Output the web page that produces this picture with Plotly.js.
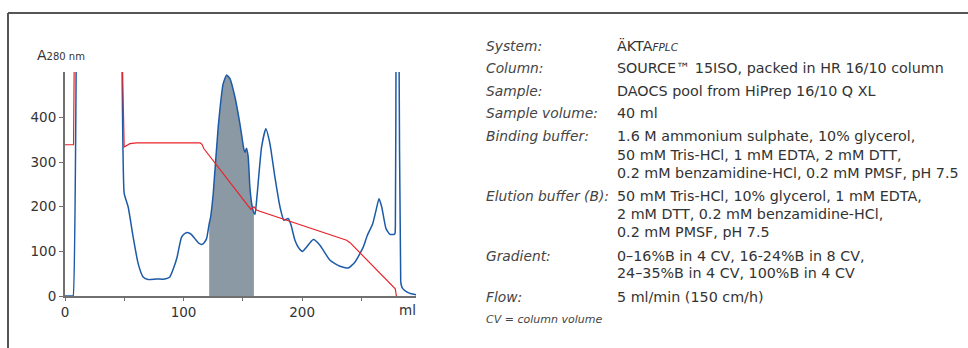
<!DOCTYPE html>
<html>
<head>
<meta charset="utf-8">
<script src="https://cdn.plot.ly/plotly-3.0.1.min.js"></script>
<style>html,body{margin:0;padding:0;background:#fff;}#chart{width:968px;height:348px;}</style>
</head>
<body>
<div id="chart"></div>
<script>
// Absorbance A280 (blue); values above 502 are off-scale (clipped at the top of the plot)
const volumeA280 = [0, 6.5, 6.9, 9.6, 9.7, 47.8, 47.9, 49.9, 51.5, 53.3, 57.5, 61.7, 65.9, 70.1, 77.2, 84.2, 88.4, 91.5, 94.5, 98.3, 101.5, 103.9, 106.5, 109.5, 113, 115.7, 117.5, 119.4, 121.6, 122.8, 125, 129.2, 133.4, 136.3, 139.1, 143.3, 147.5, 150.9, 151.8, 153.0, 154.5, 155.9, 157.9, 159.3, 160.2, 162.1, 165.8, 169.4, 172.8, 177, 181.3, 184.6, 186.5, 188.3, 190.5, 193.9, 197, 200.4, 203.8, 209.4, 215, 223.5, 231.9, 238.9, 244.6, 251.6, 255, 259.5, 262.3, 264.8, 267.1, 270.7, 274.1, 277.7, 278.3, 278.6, 279.2, 279.3, 281.5, 281.6, 283.1, 283.6, 284.8, 288.2, 292, 296];
const absA280 = [0, 0, 0, 600, 750, 750, 600, 230, 215, 199.5, 132, 72.6, 42.6, 36.8, 38, 38, 42.6, 62, 87, 132, 141, 142, 138, 128.6, 118, 115.8, 120, 128.6, 162, 177, 229.6, 379, 476, 495, 487, 446, 386, 328, 322, 331, 311.6, 244, 199.5, 186, 183, 229.6, 334, 375, 341.7, 266.8, 199.5, 169.7, 172, 173.5, 160, 125, 108, 100, 110, 126.5, 113.7, 80, 66.6, 62.8, 76, 110, 136, 162, 192, 218, 199.5, 151, 138, 138, 140, 155, 600, 750, 750, 600, 35, 24, 16.6, 9, 5, 3];
// Gradient / conductivity trace (red)
const volumeGrad = [0, 7.2, 8.0, 47.8, 49.9, 51.9, 54.7, 60.4, 114, 115.5, 117.2, 156.7, 159.3, 161.8, 237.5, 240.4, 278.5, 279.2, 279.4];
const gradValues = [339, 339, 600, 600, 334, 338, 341.5, 343, 343, 340, 330, 194, 200, 192, 125, 119.5, 16, 5, 0];
// Pooled fraction
const poolStart = 121.6, poolEnd = 159.3;
// Axis ticks
const xTickVals = [0, 50, 100, 150, 200, 250];
const xTickText = ['0', '', '100', '', '200', ''];
const yTickVals = [0, 100, 200, 300, 400];
// Info panel
const infoLabels = ['System:', 'Column:', 'Sample:', 'Sample volume:', 'Binding buffer:', '', '', 'Elution buffer (B):', '', '', 'Gradient:', '', 'Flow:'];
const infoValues = ['ÄKTA<i><span style="font-size:10.5px">FPLC</span></i>', 'SOURCE™ 15ISO, packed in HR 16/10 column', 'DAOCS pool from HiPrep 16/10 Q XL', '40 ml', '1.6 M ammonium sulphate, 10% glycerol,', '50 mM Tris-HCl, 1 mM EDTA, 2 mM DTT,', '0.2 mM benzamidine-HCl, 0.2 mM PMSF, pH 7.5', '50 mM Tris-HCl, 10% glycerol, 1 mM EDTA,', '2 mM DTT, 0.2 mM benzamidine-HCl,', '0.2 mM PMSF, pH 7.5', '0–16%B in 4 CV, 16-24%B in 8 CV,', '24–35%B in 4 CV, 100%B in 4 CV', '5 ml/min (150 cm/h)'];
const infoFootnote = 'CV = column volume';

// layout geometry (pixels)
const W = 968, H = 348, L = 65, R = 416, T = 72, B = 296;
const px2x = p => (p - L) / (R - L);
const py2y = p => (B - p) / (B - T);
const rowY = [45.7, 68.3, 91, 113.3, 136, 155, 173.3, 195.7, 214, 232.3, 256, 273.3, 296.7];

const poolX = [], poolY = [];
volumeA280.forEach((v, i) => { if (v >= poolStart && v <= poolEnd) { poolX.push(v); poolY.push(absA280[i]); } });

const font = 'DejaVu Sans, sans-serif';
const traces = [
  { x: poolX, y: poolY, type: 'scatter', mode: 'lines', fill: 'tozeroy', fillcolor: '#8b99a5',
    line: { width: 0, shape: 'spline', smoothing: 0.5 }, hoverinfo: 'skip' },
  { x: volumeA280, y: absA280, type: 'scatter', mode: 'lines',
    line: { color: '#1c5aa8', width: 1.5, shape: 'spline', smoothing: 0.5 } },
  { x: volumeGrad, y: gradValues, type: 'scatter', mode: 'lines',
    line: { color: '#e8232b', width: 1.2 } }
];

const annotations = [];
rowY.forEach((y, i) => {
  if (infoLabels[i]) annotations.push({ xref: 'paper', yref: 'paper', x: px2x(484), y: py2y(y), xanchor: 'left', yanchor: 'middle',
    text: '<i>' + infoLabels[i] + '</i>', showarrow: false, font: { family: font, size: 13.8, color: '#444' } });
  annotations.push({ xref: 'paper', yref: 'paper', x: px2x(615), y: py2y(y), xanchor: 'left', yanchor: 'middle',
    text: infoValues[i], showarrow: false, font: { family: font, size: 14.3, color: '#333' } });
});
annotations.push({ xref: 'paper', yref: 'paper', x: px2x(484), y: py2y(319.3), xanchor: 'left', yanchor: 'middle',
  text: '<i>' + infoFootnote + '</i>', showarrow: false, font: { family: font, size: 11, color: '#444' } });
annotations.push({ xref: 'paper', yref: 'paper', x: px2x(35), y: py2y(55), xanchor: 'left', yanchor: 'middle',
  text: 'A<span style="font-size:10px">280 nm</span>', showarrow: false, font: { family: font, size: 14, color: '#333' } });
annotations.push({ xref: 'paper', yref: 'paper', x: px2x(407.5), y: py2y(310), xanchor: 'center', yanchor: 'middle',
  text: 'ml', showarrow: false, font: { family: font, size: 13.5, color: '#333' } });

const layout = {
  width: W, height: H,
  margin: { l: L, r: W - R, t: T, b: H - B, pad: 0 },
  paper_bgcolor: '#fff', plot_bgcolor: '#fff',
  showlegend: false,
  font: { family: font, size: 13.5, color: '#333' },
  xaxis: { range: [0, 296], showgrid: false, zeroline: false, showline: true, linecolor: '#707070', linewidth: 1.5,
    ticks: 'outside', ticklen: 3, tickwidth: 1, tickcolor: '#707070', tickmode: 'array', tickvals: xTickVals, ticktext: xTickText,
    tickfont: { family: font, size: 13.5, color: '#333' }, fixedrange: true },
  yaxis: { range: [0, 502], showgrid: false, zeroline: false, showline: true, linecolor: '#707070', linewidth: 2,
    ticks: 'outside', ticklen: 4, tickwidth: 1, tickcolor: '#707070', tickmode: 'array', tickvals: yTickVals,
    tickfont: { family: font, size: 13.5, color: '#333' }, fixedrange: true },
  shapes: [
    { type: 'line', xref: 'paper', yref: 'paper', x0: px2x(8), x1: px2x(968), y0: py2y(13), y1: py2y(13), line: { color: '#555', width: 2 } },
    { type: 'line', xref: 'paper', yref: 'paper', x0: px2x(8), x1: px2x(8), y0: py2y(13), y1: py2y(348), line: { color: '#555', width: 2 } }
  ],
  annotations: annotations
};
Plotly.newPlot('chart', traces, layout, { staticPlot: true, displayModeBar: false });
</script>
</body>
</html>
